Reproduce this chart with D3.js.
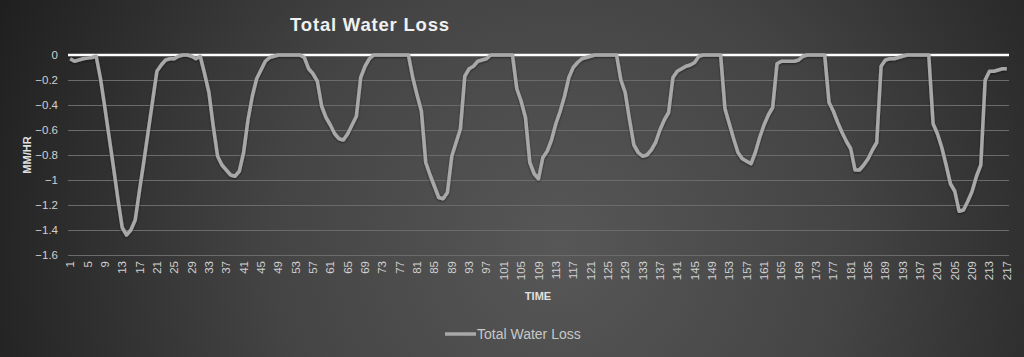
<!DOCTYPE html>
<html>
<head>
<meta charset="utf-8">
<script src="https://cdn.jsdelivr.net/npm/d3@7"></script>
<style>
  html, body { margin: 0; padding: 0; background: #333; }
  svg { display: block; }
</style>
</head>
<body>
<svg id="chart" width="1024" height="357"></svg>
<script>
const chartTitle = "Total Water Loss";
const seriesName = "Total Water Loss";
const yAxisTitle = "MM/HR";
const xAxisTitle = "TIME";
const yTicks = [0, -0.2, -0.4, -0.6, -0.8, -1, -1.2, -1.4, -1.6];
const categories = d3.range(1, 218);
const xTickLabels = d3.range(1, 218, 4);
const waterLoss = [
  -0.03,-0.05,-0.04,-0.03,-0.025,-0.02,-0.01,-0.19,-0.42,-0.66,
  -0.90,-1.15,-1.38,-1.44,-1.40,-1.32,-1.08,-0.85,-0.61,-0.37,
  -0.13,-0.08,-0.04,-0.03,-0.03,-0.01,0,0,-0.01,-0.03,
  -0.01,-0.15,-0.30,-0.57,-0.81,-0.88,-0.92,-0.96,-0.97,-0.93,
  -0.78,-0.52,-0.33,-0.19,-0.12,-0.05,-0.02,-0.01,0,0,
  0,0,0,0,-0.02,-0.11,-0.15,-0.21,-0.41,-0.50,
  -0.56,-0.63,-0.67,-0.68,-0.63,-0.56,-0.49,-0.18,-0.09,-0.03,
  0,0,0,0,0,0,0,0,0,-0.18,
  -0.32,-0.45,-0.86,-0.96,-1.05,-1.14,-1.15,-1.10,-0.81,-0.70,
  -0.59,-0.17,-0.11,-0.09,-0.05,-0.04,-0.03,0,0,0,
  0,0,0,-0.27,-0.37,-0.50,-0.86,-0.95,-0.99,-0.82,
  -0.77,-0.68,-0.55,-0.45,-0.33,-0.18,-0.10,-0.06,-0.03,-0.02,
  -0.01,0,0,0,0,0,0,-0.20,-0.30,-0.52,
  -0.72,-0.78,-0.81,-0.80,-0.76,-0.70,-0.60,-0.52,-0.46,-0.18,
  -0.13,-0.11,-0.09,-0.08,-0.06,-0.01,0,0,0,0,
  0,-0.43,-0.55,-0.67,-0.78,-0.83,-0.85,-0.87,-0.78,-0.66,
  -0.56,-0.48,-0.42,-0.07,-0.05,-0.05,-0.05,-0.05,-0.04,-0.01,
  0,0,0,0,0,-0.38,-0.45,-0.54,-0.62,-0.69,
  -0.75,-0.92,-0.92,-0.88,-0.83,-0.76,-0.70,-0.09,-0.04,-0.03,
  -0.03,-0.02,-0.01,0,0,0,0,0,0,-0.55,
  -0.63,-0.74,-0.88,-1.03,-1.09,-1.25,-1.24,-1.17,-1.09,-0.97,
  -0.88,-0.20,-0.13,-0.13,-0.12,-0.11,-0.11
];

const W = 1024, H = 357;
const plot = { left: 68, right: 1009, top: 55, bottom: 255 };
const svg = d3.select("#chart");
const defs = svg.append("defs");
const grad = defs.append("radialGradient").attr("id", "bg")
  .attr("gradientUnits", "userSpaceOnUse")
  .attr("cx", 560).attr("cy", 250).attr("r", 640);
grad.append("stop").attr("offset", "0").attr("stop-color", "#575757");
grad.append("stop").attr("offset", "0.45").attr("stop-color", "#444444");
grad.append("stop").attr("offset", "1").attr("stop-color", "#1c1c1c");
const shadow = defs.append("filter").attr("id", "sh").attr("x", "-5%").attr("y", "-5%").attr("width", "110%").attr("height", "110%");
shadow.append("feDropShadow").attr("dx", 0).attr("dy", 1).attr("stdDeviation", 1).attr("flood-color", "#000").attr("flood-opacity", 0.5);

svg.append("rect").attr("width", W).attr("height", H).attr("fill", "url(#bg)");

const x = d3.scaleBand().domain(categories).range([plot.left, plot.right]).padding(0);
const y = d3.scaleLinear().domain([-1.6, 0]).range([plot.bottom, plot.top]);
const cx = d => x(d) + x.bandwidth() / 2;

const font = "'Liberation Sans', Arial, sans-serif";

// gridlines
const yAxis = d3.axisLeft(y).tickValues(yTicks).tickSize(-(plot.right - plot.left)).tickPadding(10)
  .tickFormat(d => d === 0 ? "0" : d3.format("")(+d.toFixed(1)).replace("-", "-"));
const gy = svg.append("g").attr("transform", `translate(${plot.left},0)`).call(yAxis);
gy.select(".domain").remove();
gy.selectAll(".tick line").attr("stroke", "#6b6b6b").attr("stroke-width", 1);
gy.selectAll(".tick text").attr("fill", "#d0d0d0").attr("font-family", font).attr("font-size", 11.5);

// x axis (category labels)
const xAxis = d3.axisBottom(x).tickValues(xTickLabels).tickSize(0).tickPadding(0);
const gx = svg.append("g").attr("transform", `translate(0,${plot.bottom})`).call(xAxis);
gx.select(".domain").remove();
gx.selectAll(".tick text")
  .attr("fill", "#d0d0d0").attr("font-family", font).attr("font-size", 11.5)
  .attr("text-anchor", "end").attr("dy", null)
  .attr("transform", "translate(4,6) rotate(-90)")
  .attr("x", 0).attr("y", 0);

// zero axis line
svg.append("line").attr("x1", plot.left).attr("x2", plot.right)
  .attr("y1", y(0)).attr("y2", y(0)).attr("stroke", "#ffffff").attr("stroke-width", 2.5);

// series line
const line = d3.line().x((d, i) => cx(categories[i])).y(d => y(d));
svg.append("path").datum(waterLoss).attr("d", line)
  .attr("fill", "none").attr("stroke", "#a8a8a8").attr("stroke-width", 3.5)
  .attr("stroke-linejoin", "round").attr("filter", "url(#sh)");

// titles
svg.append("text").attr("x", 370).attr("y", 31).attr("text-anchor", "middle")
  .attr("fill", "#f0f0f0").attr("font-family", font).attr("font-weight", "bold")
  .attr("font-size", 18.5).attr("letter-spacing", 0.8).text(chartTitle);
svg.append("text").attr("transform", `translate(31,${(plot.top + plot.bottom) / 2}) rotate(-90)`)
  .attr("text-anchor", "middle").attr("fill", "#e0e0e0").attr("font-family", font)
  .attr("font-weight", "bold").attr("font-size", 11).text(yAxisTitle);
svg.append("text").attr("x", 538).attr("y", 300).attr("text-anchor", "middle")
  .attr("fill", "#e0e0e0").attr("font-family", font).attr("font-weight", "bold")
  .attr("font-size", 11).text(xAxisTitle);

// legend
const lg = svg.append("g");
lg.append("line").attr("x1", 445).attr("x2", 476).attr("y1", 334).attr("y2", 334)
  .attr("stroke", "#a8a8a8").attr("stroke-width", 3.5);
lg.append("text").attr("x", 477).attr("y", 339).attr("fill", "#c8c8c8")
  .attr("font-family", font).attr("font-size", 14).text(seriesName);
</script>
</body>
</html>
